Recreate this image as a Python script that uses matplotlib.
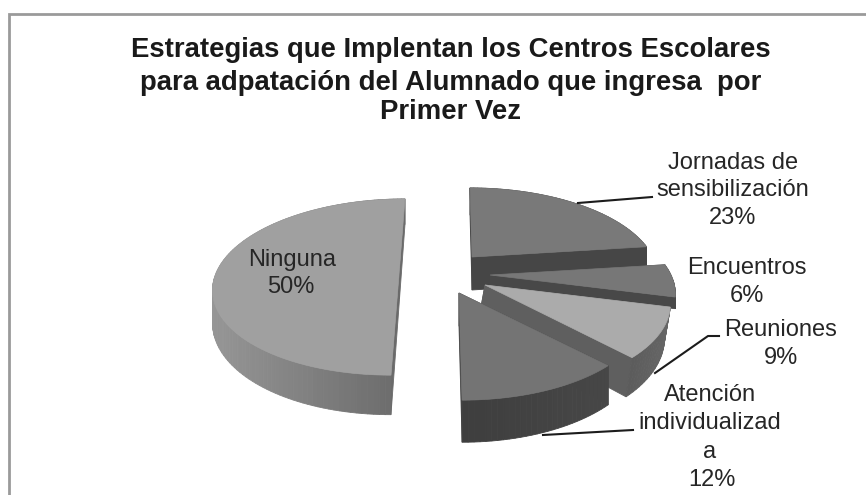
import numpy as np
import matplotlib
matplotlib.use("Agg")
import matplotlib.pyplot as plt
from matplotlib.patches import Polygon

# ---- data ----
categories = ["Jornadas de sensibilización", "Encuentros", "Reuniones",
              "Atención individualizada", "Ninguna"]
values = [23, 6, 9, 12, 50]
title_lines = ["Estrategias que Implentan los Centros Escolares",
               "para adpatación del Alumnado que ingresa  por",
               "Primer Vez"]

# ---- style / layout (pixels) ----
RX, RY, PERSP = 181.0, 84.0, 0.216
centres = [(472, 257), (490, 275), (485, 285), (459, 293), (399.5, 268)]
skews = [-2.4, 0, 0, -2.4, 6.67]
depths = [33.0, 11.0, 33.0, 33.0, 31.0]
depth_dx = [0, 0, -6, 0, 0]
top_cols = ["#797979", "#777777", "#ababab", "#747474", "#a0a0a0"]
cut_cols = ["#464646", "#484848", "#5f5f5f", "#454545", "#6a6a6a"]
wall_cols = [("#464646", "#464646"), ("#484848", "#484848"), ("#666666", "#5c5c5c"),
             ("#474747", "#3e3e3e"), ("#6a6a6a", "#969696")]
draw_order = [0, 1, 2, 4, 3]

label_lines = [
    [("Jornadas de", 733, 163), ("sensibilización", 733, 190), ("23%", 733, 218)],
    [("Encuentros", 747, 268), ("6%", 747, 296)],
    [("Reuniones", 781, 330), ("9%", 781, 358)],
    [("Atención", 710, 395), ("individualizad", 710, 423), ("a", 710, 452), ("12%", 712, 480)],
    [("Ninguna", 292, 260), ("50%", 291, 287)],
]
leaders = [
    [(578, 203), (652, 197)],
    [(655, 373), (708, 336), (719, 336)],
    [(543, 435), (633, 430)],
]

fig = plt.figure(figsize=(8.66, 4.95), dpi=100)
ax = fig.add_axes([0, 0, 1, 1])
ax.set_xlim(0, 866)
ax.set_ylim(495, 0)
ax.axis("off")


def project(theta, r, c, s, depth):
    """theta clockwise from the top of the pie, r in 0..1."""
    u, v = r * np.sin(theta), r * np.cos(theta)
    w = 1 + PERSP * v
    return c[0] + (RX * u + s * v) / w, c[1] - RY * v / w, depth / w


def mix(a, b, t):
    a = np.array(matplotlib.colors.to_rgb(a))
    b = np.array(matplotlib.colors.to_rgb(b))
    return tuple(a + (b - a) * t)


edges = np.cumsum([0] + values) / sum(values) * 2 * np.pi
for i in draw_order:
    t0, t1 = edges[i], edges[i + 1]
    n = max(int((t1 - t0) * 40), 4)
    dx = depth_dx[i]
    th = np.linspace(t0, t1, n)
    ax_x, ax_y, ax_d = project(th, 1.0, centres[i], skews[i], depths[i])
    ox, oy, od = project(np.array([0.0]), 0.0, centres[i], skews[i], depths[i])
    faces = []
    # cut faces
    for k in (0, -1):
        faces.append(([ox[0], ax_x[k], ax_x[k] + dx, ox[0] + dx],
                      [oy[0], ax_y[k], ax_y[k] + ax_d[k], oy[0] + od[0]], cut_cols[i]))
    # outer wall
    xmin, xmax = ax_x.min(), ax_x.max()
    for k in range(n - 1):
        f = 0.5 if xmax == xmin else (xmax - 0.5 * (ax_x[k] + ax_x[k + 1])) / (xmax - xmin)
        faces.append(([ax_x[k], ax_x[k + 1], ax_x[k + 1] + dx, ax_x[k] + dx],
                      [ax_y[k], ax_y[k + 1], ax_y[k + 1] + ax_d[k + 1], ax_y[k] + ax_d[k]],
                      mix(*wall_cols[i], f)))
    faces.sort(key=lambda q: np.mean(q[1]))
    for xs, ys, col in faces:
        ax.add_patch(Polygon(np.c_[xs, ys], closed=True, fc=col, ec=col, lw=0.6, zorder=2 + draw_order.index(i)))
    top = np.c_[np.r_[ox, ax_x], np.r_[oy, ax_y]]
    ax.add_patch(Polygon(top, closed=True, fc=top_cols[i], ec=top_cols[i], lw=0.5,
                         zorder=2 + draw_order.index(i) + 0.5))

# frame
ax.plot([866, 8.5, 8.5], [14, 14, 495], color="#9a9a9a", lw=2.0, zorder=1, solid_joinstyle="miter")

# leaders
for pts in leaders:
    xs, ys = zip(*pts)
    ax.plot(xs, ys, color="#1c1c1c", lw=1.5, zorder=10)

# title
for line, y in zip(title_lines, [50, 83, 112]):
    ax.text(451, y, line, ha="center", va="center", fontsize=19.8, fontweight="bold",
            family="Liberation Sans", color="#1a1a1a", zorder=11)

# labels
for lines in label_lines:
    for txt, x, y in lines:
        ax.text(x, y, txt, ha="center", va="center", fontsize=17,
                family="Liberation Sans", color="#262626", zorder=11)

fig.savefig("out.png", dpi=100, facecolor="white")
